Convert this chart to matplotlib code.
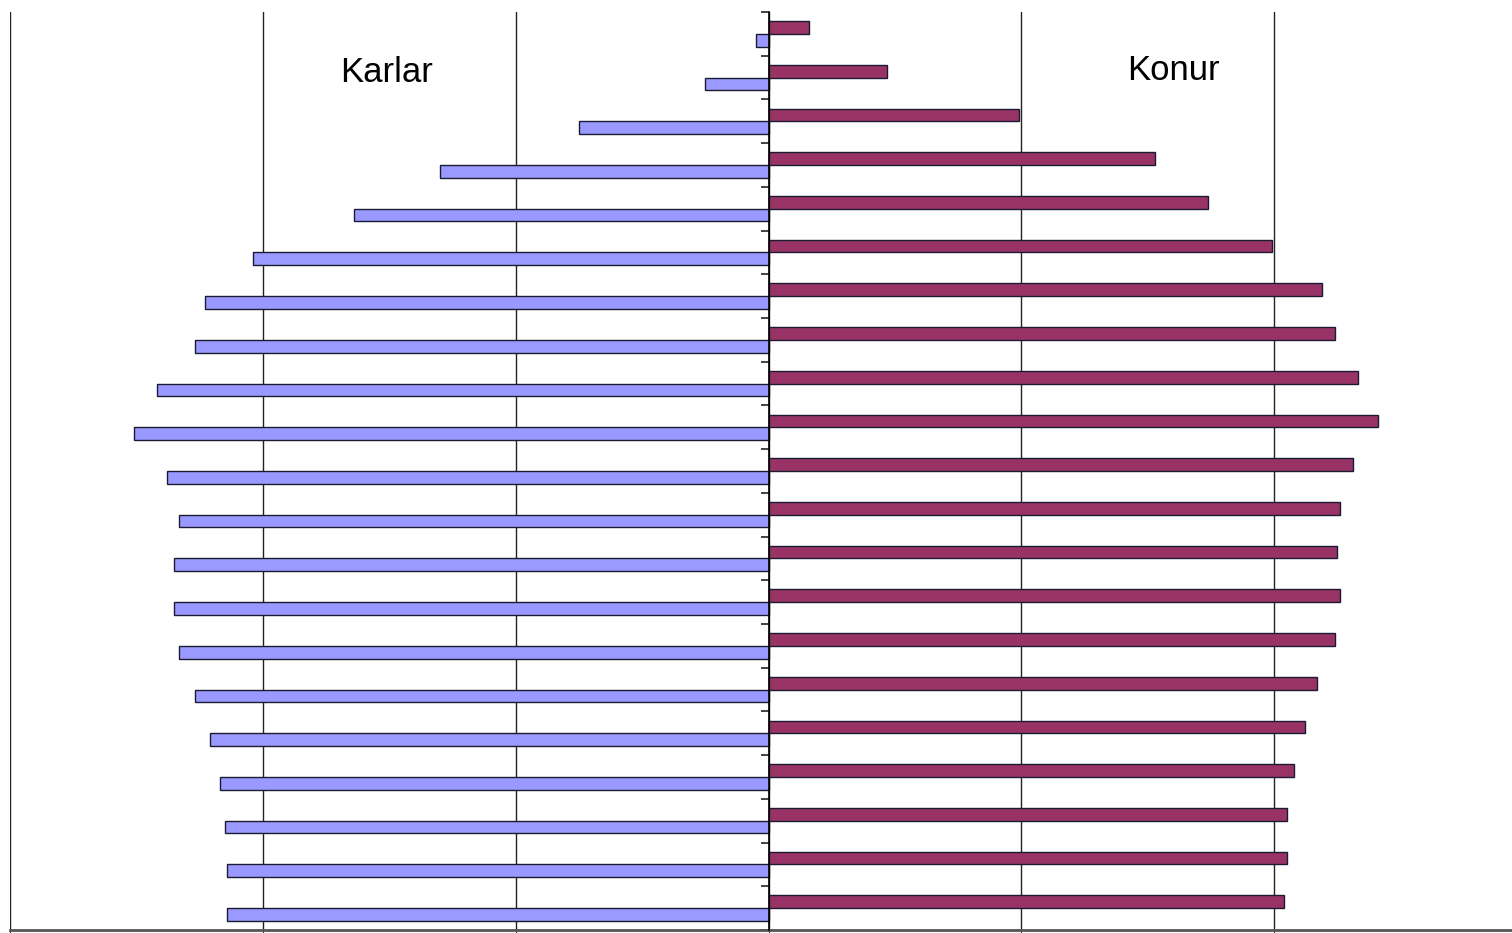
import numpy as np
import matplotlib.pyplot as plt

plt.rcParams['font.family'] = ['Liberation Sans', 'DejaVu Sans']

# age groups, youngest at the bottom
age_groups = ["0-4", "5-9", "10-14", "15-19", "20-24", "25-29", "30-34", "35-39",
              "40-44", "45-49", "50-54", "55-59", "60-64", "65-69", "70-74",
              "75-79", "80-84", "85-89", "90-94", "95-99", "100+"]

karlar = [2.14, 2.14, 2.15, 2.17, 2.21, 2.27, 2.33, 2.35, 2.35, 2.33, 2.38,
          2.51, 2.42, 2.27, 2.23, 2.04, 1.64, 1.30, 0.75, 0.25, 0.05]
konur = [2.04, 2.05, 2.05, 2.08, 2.12, 2.17, 2.24, 2.26, 2.25, 2.26, 2.31,
         2.41, 2.33, 2.24, 2.19, 1.99, 1.74, 1.53, 0.99, 0.47, 0.16]

y = np.arange(len(age_groups))
h = 0.29

fig = plt.figure(figsize=(15.12, 9.33), dpi=100)
ax = fig.add_axes([10 / 1512, 3 / 933, 1517 / 1512, 918 / 933])

ax.barh(y - h / 2, -np.array(karlar), height=h, color="#9999FF",
        edgecolor="#1a1a33", linewidth=1.0, zorder=2)
ax.barh(y + h / 2, konur, height=h, color="#993366",
        edgecolor="#1a1a33", linewidth=1.0, zorder=2)

ax.set_xlim(-3, 3)
ax.set_ylim(-0.5, len(age_groups) - 0.5)

ax.set_xticks(np.arange(-3, 4, 1))
ax.set_xticklabels([])
ax.xaxis.grid(True, color="#222222", linewidth=1.0, zorder=1)
ax.set_axisbelow(True)
ax.tick_params(axis="x", length=4, color="#333333", direction="out")

ax.set_yticks(np.arange(-0.5, len(age_groups), 1))
ax.set_yticklabels([])
ax.tick_params(axis="y", length=6, width=1.2, color="#222222", direction="out")

ax.spines["left"].set_position(("data", 0))
ax.spines["left"].set_color("black")
ax.spines["left"].set_linewidth(1.2)
ax.spines["left"].set_zorder(3)
ax.spines["top"].set_visible(False)
ax.spines["right"].set_visible(False)
ax.spines["bottom"].set_color("#555555")
ax.spines["bottom"].set_linewidth(2)

ax.text(-1.51, 0.934, "Karlar", transform=ax.get_xaxis_transform(),
        ha="center", va="center", fontsize=25)
ax.text(1.6, 0.936, "Konur", transform=ax.get_xaxis_transform(),
        ha="center", va="center", fontsize=25)

plt.savefig("out.png", dpi=100)
